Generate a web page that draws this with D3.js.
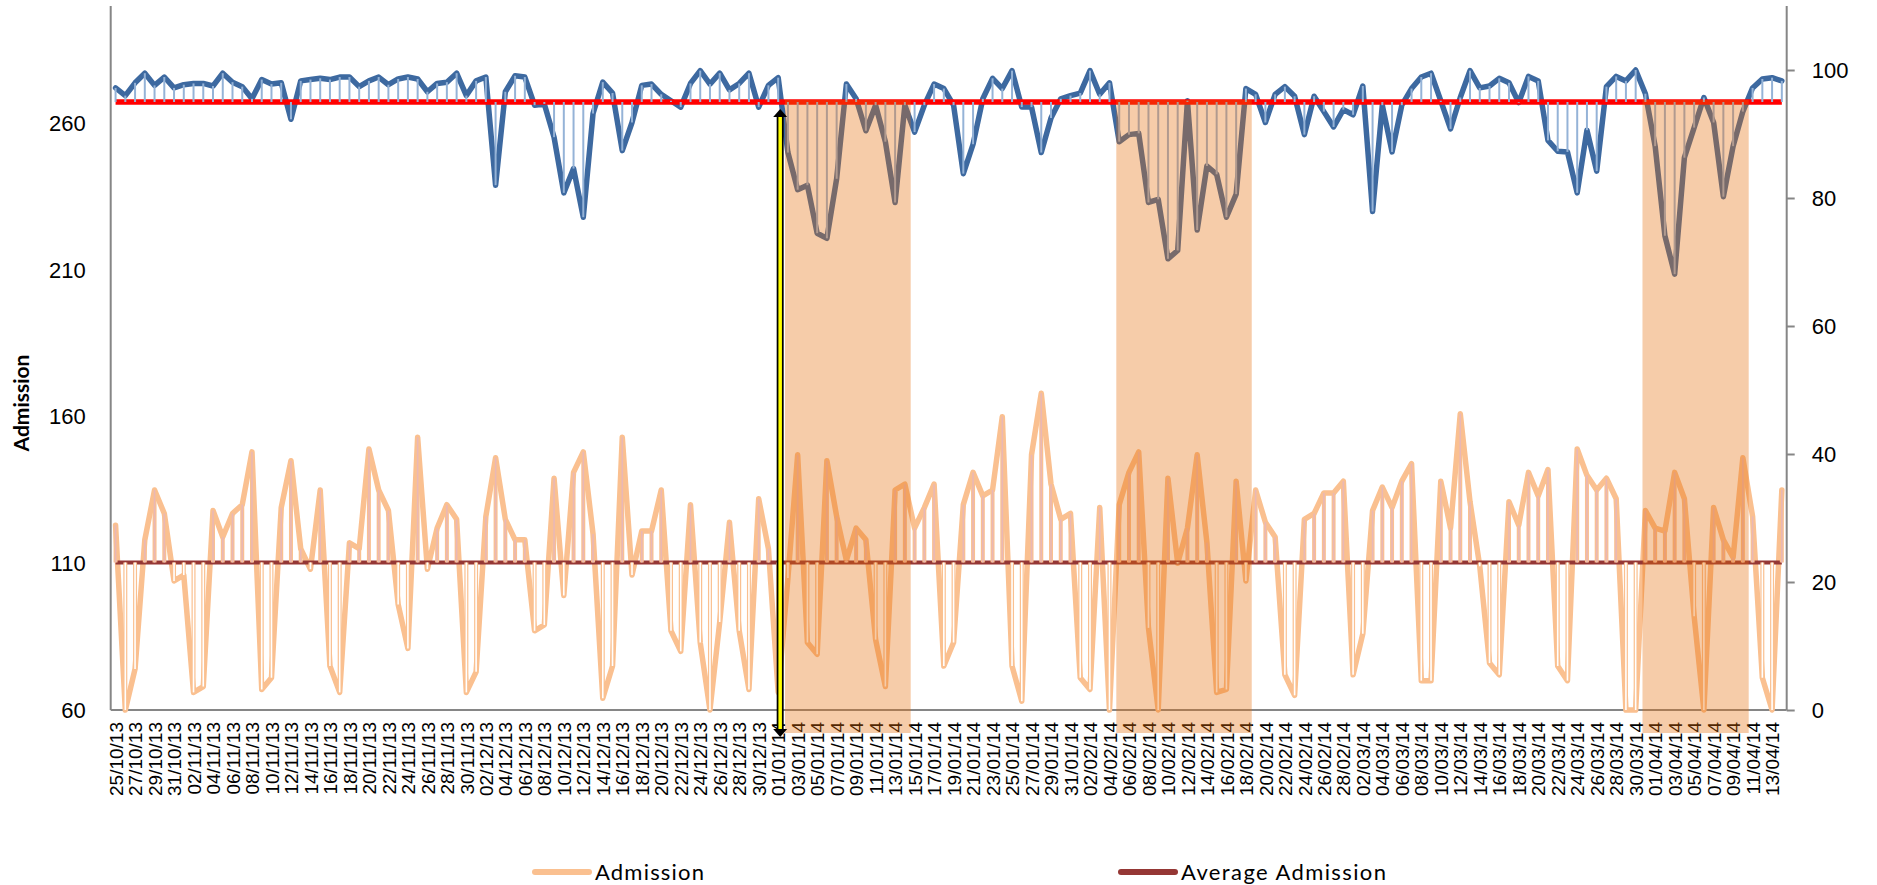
<!DOCTYPE html>
<html lang="en">
<head>
<meta charset="utf-8" />
<title>Admission and occupancy</title>
<script src="https://cdnjs.cloudflare.com/ajax/libs/d3/7.8.5/d3.min.js"></script>
<style>
    body { margin: 0; background: #fff; }
    svg { display: block; font-family: Lato, "Open Sans", sans-serif; }
    .axis text { fill: #000; }
    .y-axis text { font-size: 22px; }
    .x-axis text { font-size: 19px; }
    .legend text { font-size: 22px; fill: #000; }
</style>
</head>
<body>
<div id="chart"></div>
<script>
    // categories: one point per day
    const startDay = new Date(2013, 9, 25);
    const endDay = new Date(2014, 3, 15); // exclusive
    const fmt = d3.timeFormat("%d/%m/%y");
    const dates = d3.timeDay.range(startDay, endDay).map(fmt);

    // bed occupancy %, right axis
    const occupancy = [
        97.2, 96.0, 98.0, 99.5, 97.6, 98.9, 97.2, 97.7, 97.9, 97.9,
        97.5, 99.5, 98.1, 97.4, 95.5, 98.5, 97.8, 98.0, 92.3, 98.3,
        98.5, 98.7, 98.5, 98.9, 98.9, 97.4, 98.3, 98.9, 97.7, 98.6,
        98.9, 98.6, 96.6, 97.9, 98.1, 99.5, 96.0, 98.3, 98.9, 82.0,
        96.6, 99.1, 98.9, 94.5, 94.7, 89.5, 80.8, 84.6, 77.0, 93.2,
        98.1, 96.4, 87.4, 91.8, 97.6, 97.8, 96.2, 95.2, 94.2, 97.9,
        99.9, 97.8, 99.5, 96.9, 97.9, 99.5, 94.2, 97.6, 98.8, 87.1,
        81.3, 82.0, 74.5, 73.7, 83.0, 97.8, 95.5, 90.5, 94.5, 88.8,
        79.3, 94.5, 90.3, 94.5, 97.8, 97.1, 94.5, 83.8, 88.4, 95.5,
        98.7, 97.1, 99.9, 94.2, 94.2, 87.1, 92.5, 95.5, 96.0, 96.4,
        99.9, 96.2, 98.0, 88.8, 89.9, 90.1, 79.3, 79.8, 70.5, 71.8,
        95.2, 75.0, 85.0, 83.7, 77.0, 80.6, 97.1, 96.2, 91.8, 96.2,
        97.4, 95.9, 89.9, 95.9, 93.5, 91.1, 93.8, 93.0, 97.5, 77.9,
        94.5, 87.2, 94.5, 97.1, 98.9, 99.5, 95.2, 90.8, 95.7, 99.9,
        97.2, 97.5, 98.7, 98.0, 94.9, 99.0, 98.3, 89.0, 87.3, 87.2,
        80.8, 90.6, 84.2, 97.4, 99.0, 98.3, 100.0, 96.3, 88.1, 74.1,
        68.1, 86.3, 91.0, 95.7, 91.8, 80.2, 88.1, 93.5, 97.2, 98.6,
        98.8, 98.3
    ];

    // daily admissions, left axis
    const admission = [
        123, 60, 74, 118, 135, 127, 104, 106, 66, 68,
        128, 119, 127, 130, 148, 67, 71, 129, 145, 115,
        108, 135, 75, 66, 117, 115, 149, 135, 128, 96,
        81, 153, 108, 122, 130, 125, 66, 73, 126, 146,
        125, 118, 118, 87, 89, 139, 99, 141, 148, 120,
        64, 75, 153, 106, 121, 121, 135, 87, 80, 130,
        83, 60, 90, 124, 87, 67, 132, 115, 66, 105,
        147, 83, 79, 145, 126, 111, 122, 118, 84, 68,
        135, 137, 122, 129, 137, 75, 83, 130, 141, 133,
        135, 160, 75, 63, 147, 168, 137, 125, 127, 71,
        67, 129, 60, 130, 141, 148, 88, 60, 139, 110,
        122, 147, 117, 66, 67, 138, 104, 135, 124, 119,
        72, 65, 125, 127, 134, 134, 138, 72, 86, 128,
        136, 129, 138, 144, 70, 70, 138, 122, 161, 131,
        109, 76, 72, 131, 123, 141, 133, 142, 75, 70,
        149, 140, 135, 139, 132, 60, 60, 128, 122, 121,
        141, 132, 92, 60, 129, 118, 112, 146, 126, 71,
        60, 135
    ];

    const averageAdmission = 110.3;
    const occupancyTarget = 95;

    // shaded periods and marker date
    const shadeStarts = ["02/01/14", "05/02/14", "31/03/14"];
    const shadeEnds = ["14/01/14", "18/02/14", "10/04/14"];
    const markerDate = "01/01/14";

    const leftTicks = [60, 110, 160, 210, 260];
    const rightTicks = [0, 20, 40, 60, 80, 100];
    const legendNames = ["Admission", "Average Admission"];

    const W = 1877, H = 885;
    const plot = { left: 110.7, right: 1786.7, top: 6, bottom: 710 };

    const svg = d3.select("#chart").append("svg")
        .attr("width", W)
        .attr("height", H);

    svg.append("rect").attr("width", W).attr("height", H).attr("fill", "#fff");

    const x = d3.scalePoint()
        .domain(dates)
        .range([plot.left, plot.right])
        .padding(0.5);
    const step = x.step();

    const yL = d3.scaleLinear().domain([60, 300]).range([plot.bottom, plot.top]);
    const yR = d3.scaleLinear().domain([0, 110]).range([plot.bottom, plot.top]);

    // axes
    const axisColor = "#868686";

    svg.append("g")
        .attr("class", "axis y-axis")
        .attr("transform", `translate(${plot.left},0)`)
        .call(d3.axisLeft(yL).tickValues(leftTicks).tickSize(0).tickPadding(25))
        .call(g => g.select(".domain").remove());

    svg.append("g")
        .attr("class", "axis y-axis")
        .attr("transform", `translate(${plot.right},0)`)
        .call(d3.axisRight(yR).tickValues(rightTicks).tickSize(8).tickPadding(17))
        .call(g => g.select(".domain").remove())
        .call(g => g.selectAll("line").attr("stroke", axisColor).attr("stroke-width", 2));

    const xAxis = svg.append("g")
        .attr("class", "axis x-axis")
        .attr("transform", `translate(0,${plot.bottom})`)
        .call(d3.axisBottom(x).tickValues(dates.filter((d, i) => i % 2 === 0)).tickSize(0))
        .call(g => g.select(".domain").remove());
    xAxis.selectAll("text")
        .attr("transform", "rotate(-90)")
        .attr("x", -12)
        .attr("y", 0)
        .attr("dy", "0.35em")
        .style("text-anchor", "end");

    const frame = svg.append("g")
        .attr("stroke", axisColor)
        .attr("stroke-width", 2);
    frame.append("line").attr("x1", plot.left).attr("x2", plot.left).attr("y1", plot.top).attr("y2", plot.bottom);
    frame.append("line").attr("x1", plot.right).attr("x2", plot.right).attr("y1", plot.top).attr("y2", plot.bottom);
    frame.append("line").attr("x1", plot.left).attr("x2", plot.right).attr("y1", plot.bottom).attr("y2", plot.bottom);

    // occupancy series with drop lines to the target
    const occLine = d3.line()
        .x((d, i) => x(dates[i]))
        .y(d => yR(d));

    svg.append("path")
        .datum(occupancy)
        .attr("d", occLine)
        .attr("fill", "none")
        .attr("stroke", "#3d69a0")
        .attr("stroke-width", 5.5)
        .attr("stroke-linejoin", "round")
        .attr("stroke-linecap", "round");

    svg.append("line")
        .attr("x1", x(dates[0])).attr("x2", x(dates[dates.length - 1]))
        .attr("y1", yR(occupancyTarget)).attr("y2", yR(occupancyTarget))
        .attr("stroke", "#ff0000")
        .attr("stroke-width", 5.5);

    svg.append("g")
        .selectAll("line")
        .data(occupancy)
        .join("line")
        .attr("x1", (d, i) => x(dates[i]))
        .attr("x2", (d, i) => x(dates[i]))
        .attr("y1", yR(occupancyTarget))
        .attr("y2", d => yR(d))
        .attr("stroke", "#95b3d7")
        .attr("stroke-width", 2);

    // admission series with drop lines to the average
    const admLine = d3.line()
        .x((d, i) => x(dates[i]))
        .y(d => yL(d));

    svg.append("path")
        .datum(admission)
        .attr("d", admLine)
        .attr("fill", "none")
        .attr("stroke", "#fac090")
        .attr("stroke-width", 5.5)
        .attr("stroke-linejoin", "round")
        .attr("stroke-linecap", "round");

    svg.append("line")
        .attr("x1", x(dates[0])).attr("x2", x(dates[dates.length - 1]))
        .attr("y1", yL(averageAdmission)).attr("y2", yL(averageAdmission))
        .attr("stroke", "#953735")
        .attr("stroke-width", 4);

    const drops = svg.append("g");
    drops.selectAll("line.outer")
        .data(admission)
        .join("line")
        .attr("class", "outer")
        .attr("x1", (d, i) => x(dates[i]))
        .attr("x2", (d, i) => x(dates[i]))
        .attr("y1", yL(averageAdmission))
        .attr("y2", d => yL(d))
        .attr("stroke", "#fac090")
        .attr("stroke-width", 4);
    drops.selectAll("line.inner")
        .data(admission)
        .join("line")
        .attr("class", "inner")
        .attr("x1", (d, i) => x(dates[i]))
        .attr("x2", (d, i) => x(dates[i]))
        .attr("y1", yL(averageAdmission))
        .attr("y2", d => yL(d))
        .attr("stroke", d => d >= averageAdmission ? "#e9b8b6" : "#ffffff")
        .attr("stroke-width", 1.6);

    // shaded periods, drawn over the series
    const shadeTop = yR(occupancyTarget) - 2;
    svg.append("g")
        .selectAll("rect")
        .data(shadeStarts)
        .join("rect")
        .attr("x", d => x(d) - step * 0.3)
        .attr("width", (d, i) => x(shadeEnds[i]) - x(d) + step * 0.9)
        .attr("y", shadeTop)
        .attr("height", plot.bottom + 23 - shadeTop)
        .attr("fill", "#e46c0a")
        .attr("fill-opacity", 0.35);

    // yellow double arrow
    const ax = x(markerDate) + 2;
    const aTop = yR(occupancyTarget) + 7;
    const aBot = plot.bottom + 27;
    const arrow = svg.append("g");
    arrow.append("line")
        .attr("x1", ax).attr("x2", ax)
        .attr("y1", aTop + 5).attr("y2", aBot - 5)
        .attr("stroke", "#000").attr("stroke-width", 7);
    arrow.append("line")
        .attr("x1", ax).attr("x2", ax)
        .attr("y1", aTop + 6).attr("y2", aBot - 6)
        .attr("stroke", "#ffff00").attr("stroke-width", 3.5);
    arrow.append("path")
        .attr("d", `M${ax},${aTop} L${ax - 7},${aTop + 8} L${ax + 7},${aTop + 8} Z`)
        .attr("fill", "#000");
    arrow.append("path")
        .attr("d", `M${ax},${aBot} L${ax - 7},${aBot - 8} L${ax + 7},${aBot - 8} Z`)
        .attr("fill", "#000");

    // y title
    svg.append("text")
        .attr("transform", "translate(22,403) rotate(-90)")
        .attr("text-anchor", "middle")
        .attr("dy", "0.35em")
        .style("font-size", "21px")
        .style("font-weight", "bold")
        .text("Admission");

    // legend
    const legendColors = ["#fac090", "#953735"];
    const legendX = [535, 1121];
    const legendLen = [109, 205];
    const legend = svg.append("g").attr("class", "legend");
    legendNames.forEach((name, i) => {
        legend.append("line")
            .attr("x1", legendX[i]).attr("x2", legendX[i] + 54)
            .attr("y1", 872).attr("y2", 872)
            .attr("stroke", legendColors[i])
            .attr("stroke-width", 6)
            .attr("stroke-linecap", "round");
        legend.append("text")
            .attr("x", legendX[i] + 60)
            .attr("y", 872)
            .attr("dy", "0.35em")
            .attr("textLength", legendLen[i])
            .text(name);
    });
</script>
</body>
</html>
